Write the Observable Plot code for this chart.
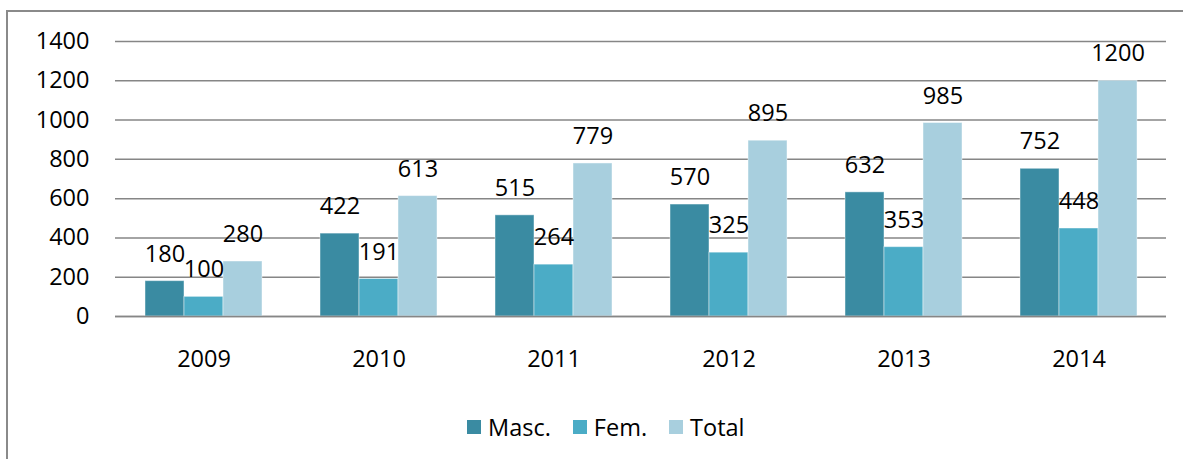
<!DOCTYPE html>
<html><head><meta charset="utf-8">
<script src="https://cdn.jsdelivr.net/npm/d3@7"></script>
<script src="https://cdn.jsdelivr.net/npm/@observablehq/plot@0.6"></script>
<style>
body{margin:0;background:#fff;font-family:"Open Sans",sans-serif;}
#wrap{position:relative;width:1183px;height:459px;overflow:hidden;}
#chart{position:absolute;left:0;top:0;}
#frame{position:absolute;left:6px;top:10px;width:1400px;height:700px;border-left:2px solid #8a8a8a;border-top:2px solid #8a8a8a;pointer-events:none;}
#legend{position:absolute;top:411px;left:467px;display:flex;align-items:center;font-size:23.5px;color:#000;white-space:nowrap;}
.item{display:flex;align-items:center;margin-right:22px;}
.sw{width:14px;height:14px;margin-right:7px;}
</style>
</head><body>
<div id="wrap"><div id="chart"></div><div id="legend"></div><div id="frame"></div></div>
<script>
const years = ["2009", "2010", "2011", "2012", "2013", "2014"];
const seriesNames = ["Masc.", "Fem.", "Total"];
const masc = [180, 422, 515, 570, 632, 752];
const fem = [100, 191, 264, 325, 353, 448];
const total = [280, 613, 779, 895, 985, 1200];
const colors = ["#3A8BA2", "#4BACC6", "#A8CFDE"];
const yTicks = [0, 200, 400, 600, 800, 1000, 1200, 1400];

const seriesValues = [masc, fem, total];
const rows = years.flatMap((y, i) => seriesNames.map((s, j) => ({year: y, series: s, value: seriesValues[j][i]})));

const W = 1183, H = 390, mL = 115, mR = 17, mT = 41, mB = 74;
const padInner = 0.332;
const step = (W - mL - mR) / years.length;
const bw = step * (1 - padInner);
const sub = bw / 3;
const FS = 23.5;

const marks = [Plot.ruleY(yTicks, {stroke: "#868686", strokeWidth: 1.5})];
seriesNames.forEach((s, j) => {
  const data = rows.filter(d => d.series === s);
  marks.push(Plot.barY(data, {x: "year", y: "value", fill: colors[j], stroke: "#ffffff", strokeOpacity: 0.45, strokeWidth: 1,
    insetLeft: j * sub, insetRight: (2 - j) * sub}));
});
marks.push(Plot.ruleY([0], {stroke: "#868686", strokeWidth: 1.5}));
seriesNames.forEach((s, j) => {
  const data = rows.filter(d => d.series === s);
  marks.push(Plot.text(data, {x: "year", y: "value", text: d => String(d.value), dx: (j - 1) * sub, dy: -27, fontSize: FS, fill: "#000"}));
});
marks.push(Plot.axisY(yTicks, {tickSize: 0, tickPadding: 26, fontSize: FS, fill: "#000", tickFormat: d => String(d)}));
marks.push(Plot.axisX({tickSize: 0, tickPadding: 34, fontSize: FS, fill: "#000"}));

const chart = Plot.plot({
  width: W, height: H,
  marginLeft: mL, marginRight: mR, marginTop: mT, marginBottom: mB,
  style: {fontFamily: "Open Sans", fontSize: FS + "px", color: "#000", background: "transparent", overflow: "visible"},
  x: {domain: years, paddingInner: padInner, paddingOuter: padInner / 2, label: null},
  y: {domain: [0, 1400], label: null},
  marks
});
document.getElementById("chart").appendChild(chart);

const legend = document.getElementById("legend");
seriesNames.forEach((s, j) => {
  const it = document.createElement("div");
  it.className = "item";
  const sw = document.createElement("div");
  sw.className = "sw";
  sw.style.background = colors[j];
  const t = document.createElement("span");
  t.textContent = s;
  it.appendChild(sw); it.appendChild(t);
  legend.appendChild(it);
});
</script>
</body></html>
